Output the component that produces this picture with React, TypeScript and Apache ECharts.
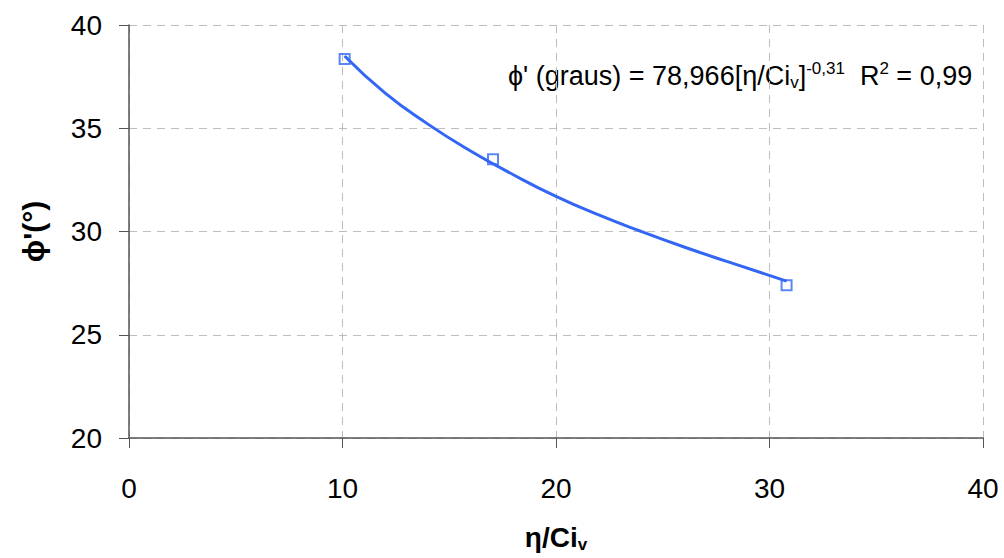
import React, { useEffect, useRef } from "react";
import * as echarts from "echarts";

const pointsX = [10.1, 17.05, 30.8];
const pointsY = [38.35, 33.5, 27.4];

const trendX = [10.1, 12, 14, 16, 18, 20, 22, 24, 26, 28, 30.8];
const trendY = [38.5, 36.7, 35.2, 33.9, 32.75, 31.7, 30.8, 30.0, 29.25, 28.55, 27.6];

const xTicks = { min: 0, max: 40, interval: 10 };
const yTicks = { min: 20, max: 40, interval: 5 };

const FONT = "Liberation Sans, Arial, sans-serif";

export default function App() {
  const ref = useRef<HTMLDivElement>(null);
  useEffect(() => {
    document.body.style.margin = "0";
    const chart = echarts.init(ref.current!, null, { renderer: "svg" });
    const gridColor = "#bdbdbd";
    const axisColor = "#555555";
    chart.setOption({
      animation: false,
      backgroundColor: "#ffffff",
      textStyle: { fontFamily: FONT },
      grid: { left: 129, right: 21, top: 25, bottom: 114, containLabel: false },
      xAxis: {
        type: "value",
        min: xTicks.min,
        max: xTicks.max,
        interval: xTicks.interval,
        name: "η/Ci{sub|v}",
        nameLocation: "middle",
        nameGap: 84,
        nameTextStyle: {
          fontFamily: FONT,
          fontSize: 28,
          fontWeight: "bold",
          color: "#000",
          rich: {
            sub: { fontSize: 17, fontWeight: "bold", verticalAlign: "bottom", padding: [14, 0, 0, 0], color: "#000" },
          },
        },
        axisLine: { show: true, lineStyle: { color: axisColor, width: 1.5 } },
        axisTick: { show: true, inside: false, length: 10, lineStyle: { color: axisColor } },
        axisLabel: { fontSize: 28, color: "#000", margin: 36, fontFamily: FONT },
        splitLine: { show: true, lineStyle: { color: gridColor, type: [8, 6], width: 1 } },
      },
      yAxis: {
        type: "value",
        min: yTicks.min,
        max: yTicks.max,
        interval: yTicks.interval,
        name: "ϕ'(°)",
        nameLocation: "middle",
        nameGap: 81,
        nameRotate: 90,
        nameTextStyle: { fontFamily: FONT, fontSize: 30, fontWeight: "bold", color: "#000" },
        axisLine: { show: true, lineStyle: { color: axisColor, width: 1.5 } },
        axisTick: { show: true, inside: false, length: 10, lineStyle: { color: axisColor } },
        axisLabel: { fontSize: 28, color: "#000", margin: 27, fontFamily: FONT },
        splitLine: { show: true, lineStyle: { color: gridColor, type: [8, 6], width: 1 } },
      },
      series: [
        {
          type: "line",
          data: trendX.map((x, i) => [x, trendY[i]]),
          smooth: true,
          showSymbol: false,
          symbol: "none",
          lineStyle: { color: "#3366f5", width: 3 },
          z: 2,
        },
        {
          type: "scatter",
          data: pointsX.map((x, i) => [x, pointsY[i]]),
          symbol: "rect",
          symbolSize: 10,
          itemStyle: { color: "rgba(255,255,255,0)", borderColor: "#3366f5", borderWidth: 2 },
          z: 3,
        },
      ],
      graphic: [
        {
          type: "text",
          left: 508,
          top: 60,
          style: {
            text: "ϕ' (graus) = 78,966[η/Ci{sub|v}]{sup|-0,31}  R{sup|2} = 0,99",
            fontFamily: FONT,
            fontSize: 27,
            fill: "#000",
            rich: {
              sub: { fontSize: 17, fontFamily: FONT, fill: "#000", verticalAlign: "bottom", padding: [14, 0, 0, 0] },
              sup: { fontSize: 17, fontFamily: FONT, fill: "#000", verticalAlign: "top", padding: [0, 0, 14, 0] },
            },
          },
        },
      ],
    });
    return () => chart.dispose();
  }, []);
  return (
    <div
      ref={ref}
      style={{ position: "absolute", left: 0, top: 0, width: 1004, height: 558 }}
    />
  );
}
